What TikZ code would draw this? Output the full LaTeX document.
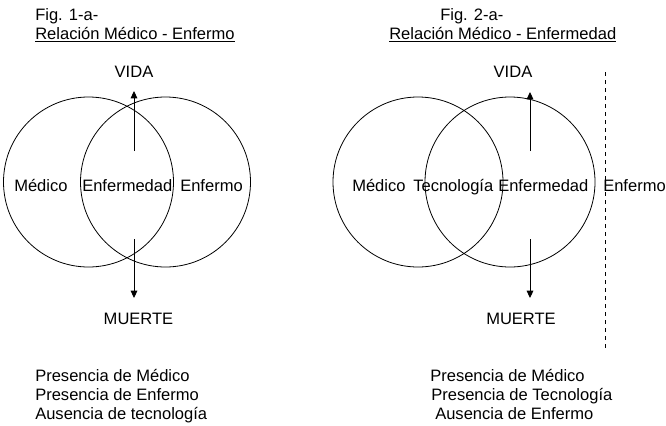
\documentclass[tikz,border=0pt]{standalone}
\usepackage{fontspec}
\setmainfont{Liberation Sans}
\usetikzlibrary{arrows.meta,positioning}
\tikzset{
    texto/.style={inner sep=0pt, anchor=base west, font=\fontsize{12.4}{14}\selectfont},
    centro/.style={texto, anchor=base},
    circulo/.style={draw, circle, line width=0.6pt, minimum size=127.5pt, inner sep=0pt},
    flecha/.style={line width=0.7pt, -{Triangle[width=5pt,length=5.5pt]}},
    limite/.style={line width=0.7pt, dash pattern=on 3pt off 3pt}
}

\begin{document}
\begin{tikzpicture}[x=0.75pt, y=-0.75pt]
    \useasboundingbox (0,0) rectangle (666,425);

    % Fig. 1-a-
    \node[texto] (figA) at (35,20.7) {Fig. 1-a-};
    \node[texto] (titA) at (35,39) {\underline{Relación Médico - Enfermo}};

    % Circles
    \node[circulo] (medA) at (88.5,182) {};
    \node[circulo] (enfA) at (165.5,182) {};

    % Labels
    \node[texto] (lmedA) at (14,191) {Médico};
    \node[texto] (lenfdA) at (82,191) {Enfermedad};
    \node[texto] (lenfA) at (180,191) {Enfermo};

    % Vida - Muerte
    \node[centro] (vidaA) at (134,77.3) {VIDA};
    \node[centro] (muerteA) at (138.5,324.3) {MUERTE};
    \coordinate (upA) at (134,151);
    \coordinate (tipupA) at (134,91);
    \coordinate (downA) at (134,239);
    \coordinate (tipdownA) at (134,298);
    \draw[flecha] (upA) -- (tipupA);
    \draw[flecha] (downA) -- (tipdownA);

    % Notes
    \node[texto] (notaA1) at (35,381) {Presencia de Médico};
    \node[texto] (notaA2) at (35,400) {Presencia de Enfermo};
    \node[texto] (notaA3) at (35,419) {Ausencia de tecnología};

    % Fig. 2-a-
    \node[texto] (figB) at (440,20.7) {Fig. 2-a-};
    \node[texto] (titB) at (389,39) {\underline{Relación Médico - Enfermedad}};

    % Circles
    \node[circulo] (medB) at (418,182) {};
    \node[circulo] (tecB) at (510,182) {};

    % Labels
    \node[texto] (lmedB) at (352,191) {Médico};
    \node[texto] (ltecB) at (413,191) {Tecnología};
    \node[texto] (lenfdB) at (498,191) {Enfermedad};
    \node[texto] (lenfB) at (603,191) {Enfermo};

    % Vida - Muerte
    \node[centro] (vidaB) at (513,77.3) {VIDA};
    \node[centro] (muerteB) at (521,324.3) {MUERTE};
    \coordinate (upB) at (530,151);
    \coordinate (tipupB) at (530,92);
    \coordinate (downB) at (530,239);
    \coordinate (tipdownB) at (530,298);
    \draw[flecha] (upB) -- (tipupB);
    \draw[flecha] (downB) -- (tipdownB);

    % Dashed limit
    \coordinate (limtop) at (605.5,72);
    \coordinate (limbot) at (605.5,348);
    \draw[limite] (limtop) -- (limbot);

    % Notes
    \node[texto] (notaB1) at (430,381) {Presencia de Médico};
    \node[texto] (notaB2) at (431,400) {Presencia de Tecnología};
    \node[texto] (notaB3) at (435,419) {Ausencia de Enfermo};
\end{tikzpicture}
\end{document}
